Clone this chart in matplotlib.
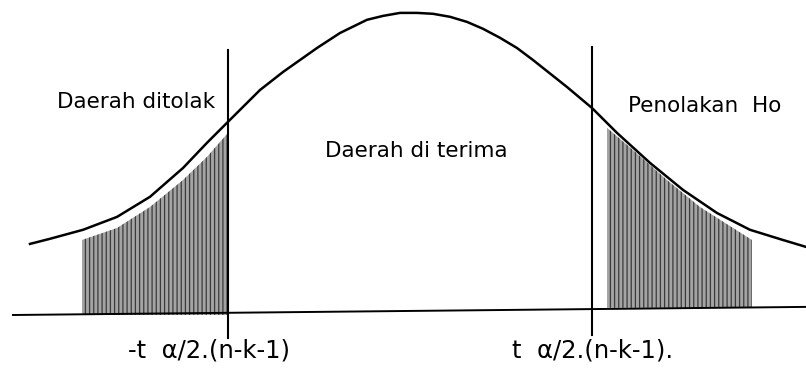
import matplotlib
matplotlib.use('Agg')
import matplotlib.pyplot as plt
import numpy as np

# curve (x in t units, y relative to the peak)
curve_x = [-3.80, -3.60, -3.27, -2.93, -2.60, -2.27, -2.03, -1.82, -1.50, -1.27,
           -1.10, -0.93, -0.70, -0.43, -0.27, -0.10, 0.07, 0.23, 0.40, 0.57,
           0.73, 0.90, 1.07, 1.23, 1.57, 1.82, 2.07, 2.40, 2.73, 3.07, 3.40,
           3.73, 3.96]
curve_y = [0.230, 0.247, 0.277, 0.320, 0.387, 0.483, 0.567, 0.637, 0.743, 0.803,
           0.843, 0.883, 0.933, 0.977, 0.990, 1.000, 1.000, 0.997, 0.987, 0.970,
           0.947, 0.917, 0.883, 0.843, 0.753, 0.683, 0.600, 0.500, 0.410, 0.333,
           0.277, 0.243, 0.220]

# shaded tails
left_x = [-3.28, -2.93, -2.60, -2.27, -2.03, -1.82]
left_top = [0.243, 0.283, 0.353, 0.443, 0.520, 0.600]
left_bottom = -0.007
right_x = [1.97, 2.23, 2.57, 2.90, 3.23, 3.42]
right_top = [0.617, 0.543, 0.443, 0.353, 0.283, 0.243]
right_bottom = 0.017

# critical values and axis line
t_crit = [-1.82, 1.82]
crit_y0 = [-0.083, -0.073]
crit_y1 = [0.877, 0.887]
base_x = [-3.97, 3.96]
base_y = [-0.007, 0.020]

labels = ["Daerah ditolak", "Daerah di terima", "Penolakan  Ho"]
label_pos = [(-3.53, 0.683), (-0.85, 0.52), (2.18, 0.67)]
crit_labels = ["-t  \u03b1/2.(n-k-1)", "t  \u03b1/2.(n-k-1)."]
crit_label_x = [-2.82, 1.02]
crit_label_y = -0.15

plt.rcParams['font.family'] = ['DejaVu Sans']
plt.rcParams['hatch.linewidth'] = 0.9

fig = plt.figure(figsize=(8.06, 3.72), dpi=100)
ax = fig.add_axes([0, 0, 1, 1])
ax.set_xlim(-4.10, 3.96)
ax.set_ylim(-0.197, 1.043)
ax.axis('off')

ax.fill_between(left_x, left_bottom, left_top, facecolor='#a4a4a4',
                edgecolor='#3a3a3a', hatch='||||', linewidth=0)
ax.fill_between(right_x, right_bottom, right_top, facecolor='#a4a4a4',
                edgecolor='#3a3a3a', hatch='||||', linewidth=0)

ax.plot(base_x, base_y, color='black', lw=1.4)
for x, y0, y1 in zip(t_crit, crit_y0, crit_y1):
    ax.plot([x, x], [y0, y1], color='black', lw=1.5)
ax.plot(curve_x, curve_y, color='black', lw=1.8, solid_joinstyle='round')

for txt, (x, y) in zip(labels, label_pos):
    ax.text(x, y, txt, fontsize=15.5, va='baseline', ha='left', color='black')
for txt, x in zip(crit_labels, crit_label_x):
    ax.text(x, crit_label_y, txt, fontsize=17.5, va='baseline', ha='left', color='black')

fig.savefig('out.png', dpi=100, facecolor='white')
